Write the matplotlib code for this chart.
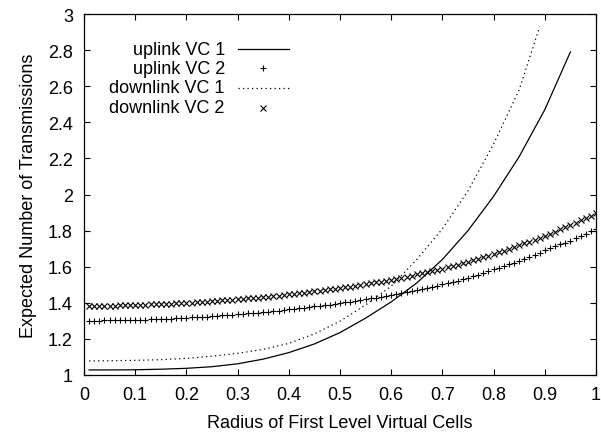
import matplotlib
matplotlib.use("Agg")
import matplotlib.pyplot as plt
import numpy as np
from matplotlib.ticker import FormatStrFormatter

plt.rcParams["font.family"] = ["Liberation Sans", "DejaVu Sans"]

# radius samples for the marker series (0.01 .. 1.00)
x_vc2 = np.round(np.arange(1, 101) * 0.01, 2)

uplink_vc2 = [
    1.300, 1.301, 1.301, 1.302, 1.302, 1.303, 1.303, 1.304, 1.304, 1.305,
    1.306, 1.307, 1.308, 1.309, 1.310, 1.311, 1.312, 1.314, 1.315, 1.317,
    1.319, 1.320, 1.322, 1.324, 1.326, 1.328, 1.330, 1.332, 1.334, 1.336,
    1.338, 1.341, 1.343, 1.346, 1.348, 1.351, 1.354, 1.357, 1.360, 1.363,
    1.366, 1.369, 1.373, 1.376, 1.380, 1.383, 1.387, 1.390, 1.394, 1.398,
    1.402, 1.406, 1.410, 1.415, 1.419, 1.424, 1.428, 1.433, 1.438, 1.443,
    1.448, 1.453, 1.458, 1.464, 1.470, 1.476, 1.482, 1.488, 1.495, 1.502,
    1.509, 1.516, 1.523, 1.531, 1.539, 1.547, 1.556, 1.565, 1.575, 1.585,
    1.594, 1.603, 1.613, 1.623, 1.633, 1.644, 1.655, 1.666, 1.678, 1.690,
    1.701, 1.712, 1.723, 1.734, 1.745, 1.757, 1.769, 1.782, 1.796, 1.810,
]

downlink_vc2 = [
    1.382, 1.383, 1.383, 1.384, 1.385, 1.385, 1.386, 1.386, 1.387, 1.388,
    1.389, 1.390, 1.391, 1.392, 1.393, 1.394, 1.395, 1.397, 1.398, 1.400,
    1.401, 1.403, 1.405, 1.407, 1.409, 1.411, 1.413, 1.415, 1.417, 1.419,
    1.421, 1.424, 1.426, 1.429, 1.432, 1.434, 1.437, 1.440, 1.443, 1.446,
    1.449, 1.453, 1.456, 1.460, 1.463, 1.467, 1.471, 1.474, 1.478, 1.482,
    1.486, 1.490, 1.495, 1.499, 1.504, 1.509, 1.513, 1.518, 1.523, 1.528,
    1.534, 1.539, 1.545, 1.551, 1.557, 1.563, 1.569, 1.576, 1.583, 1.590,
    1.597, 1.604, 1.612, 1.619, 1.627, 1.635, 1.644, 1.652, 1.661, 1.670,
    1.679, 1.689, 1.698, 1.708, 1.718, 1.729, 1.739, 1.750, 1.761, 1.772,
    1.783, 1.795, 1.807, 1.819, 1.831, 1.843, 1.856, 1.869, 1.882, 1.895,
]

# line series (VC 1)
x_up_vc1 = [0.01, 0.05, 0.10, 0.15, 0.20, 0.25, 0.30, 0.35, 0.40, 0.45,
            0.50, 0.55, 0.60, 0.65, 0.70, 0.75, 0.80, 0.85, 0.90, 0.95]
uplink_vc1 = [1.028, 1.028, 1.029, 1.032, 1.037, 1.046, 1.062, 1.088, 1.124, 1.172,
              1.235, 1.315, 1.405, 1.510, 1.640, 1.800, 1.990, 2.210, 2.470, 2.790]

x_down_vc1 = [0.01, 0.05, 0.10, 0.15, 0.20, 0.25, 0.30, 0.35, 0.40, 0.45,
              0.50, 0.55, 0.60, 0.65, 0.70, 0.75, 0.80, 0.85, 0.89]
downlink_vc1 = [1.078, 1.079, 1.081, 1.085, 1.092, 1.104, 1.120, 1.142, 1.175, 1.228,
                1.298, 1.388, 1.492, 1.640, 1.810, 2.020, 2.280, 2.580, 2.930]

labels = ["uplink VC 1", "uplink VC 2", "downlink VC 1", "downlink VC 2"]

fig = plt.figure(figsize=(6.01, 4.35), dpi=100)
ax = fig.add_axes([84 / 601, 1 - 376 / 435, 512 / 601, 361 / 435])

dotted = (0, (1, 2.6))
ax.plot(x_up_vc1, uplink_vc1, color="black", lw=0.9)
ax.plot(x_vc2, uplink_vc2, ls="none", marker="+", ms=5, mew=0.8, color="black")
ax.plot(x_down_vc1, downlink_vc1, color="black", lw=0.9, ls=dotted)
ax.plot(x_vc2, downlink_vc2, ls="none", marker="x", ms=4, mew=0.8, color="black")

ax.set_xlim(0, 1)
ax.set_ylim(1, 3)
ax.set_xticks(np.arange(0, 1.01, 0.1))
ax.set_yticks(np.arange(1, 3.01, 0.2))
ax.xaxis.set_major_formatter(FormatStrFormatter("%g"))
ax.yaxis.set_major_formatter(FormatStrFormatter("%g"))
ax.tick_params(direction="in", length=4.5, width=0.8, top=True, right=True,
               labelsize=13, pad=8)
for s in ax.spines.values():
    s.set_linewidth(0.9)

ax.set_xlabel("Radius of First Level Virtual Cells", fontsize=13, labelpad=8)
ax.set_ylabel("Expected Number of Transmissions", fontsize=13, labelpad=8)

# gnuplot style key: right aligned text, sample to the right
key_y = [0.903, 0.850, 0.796, 0.740]
for i, lab in enumerate(labels):
    ax.text(0.275, key_y[i], lab, transform=ax.transAxes, ha="right", va="center", fontsize=13)
ax.plot([0.30, 0.40], [key_y[0]] * 2, transform=ax.transAxes, color="black", lw=0.9)
ax.plot([0.35], [key_y[1]], transform=ax.transAxes, marker="+", ms=5, mew=0.8, color="black")
ax.plot([0.30, 0.40], [key_y[2]] * 2, transform=ax.transAxes, color="black", lw=0.9, ls=dotted)
ax.plot([0.35], [key_y[3]], transform=ax.transAxes, marker="x", ms=4, mew=0.8, color="black")

fig.savefig("out.png", dpi=100)
